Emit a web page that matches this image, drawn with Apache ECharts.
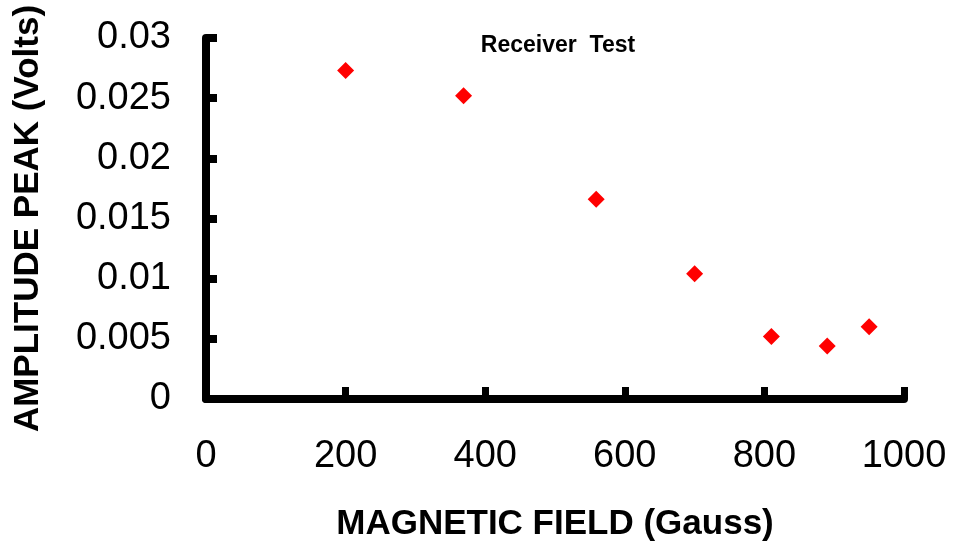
<!DOCTYPE html>
<html>
<head>
<meta charset="utf-8">
<script src="https://cdn.jsdelivr.net/npm/echarts@6/dist/echarts.min.js"></script>
<style>
html,body{margin:0;padding:0;background:#fff;}
#chart{width:954px;height:552px;}
</style>
</head>
<body>
<div id="chart"></div>
<script>
const chartTitle = "Receiver  Test";
const xAxisName = "MAGNETIC FIELD (Gauss)";
const yAxisName = "AMPLITUDE PEAK (Volts)";
const magneticField = [200, 369, 559, 700, 810, 890, 950];
const amplitudePeak = [0.0273, 0.0252, 0.0166, 0.0104, 0.0052, 0.0044, 0.0060];
const xTicks = [0, 200, 400, 600, 800, 1000];
const yTicks = [0, 0.005, 0.01, 0.015, 0.02, 0.025, 0.03];

const points = magneticField.map((x, i) => [x, amplitudePeak[i]]);
const FONT = '"Liberation Sans", Arial, sans-serif';

const chart = echarts.init(document.getElementById('chart'), null, {renderer: 'canvas'});
chart.setOption({
  animation: false,
  backgroundColor: '#ffffff',
  title: {
    text: chartTitle,
    left: 553, top: 29, textAlign: 'center',
    textStyle: {fontFamily: FONT, fontWeight: 'bold', fontSize: 23, color: '#000'}
  },
  grid: {left: 206, right: 50, top: 38, bottom: 153},
  xAxis: {
    type: 'value',
    min: xTicks[0], max: xTicks[xTicks.length - 1], interval: 200,
    name: xAxisName, nameLocation: 'middle', nameGap: 108,
    nameTextStyle: {fontFamily: FONT, fontWeight: 'bold', fontSize: 35, color: '#000'},
    axisLine: {show: true, lineStyle: {color: '#000', width: 8}},
    axisTick: {show: true, inside: true, length: 12, lineStyle: {color: '#000', width: 7}},
    axisLabel: {fontFamily: FONT, fontSize: 38, color: '#000', margin: 39,
      formatter: v => xTicks.includes(v) ? String(v) : ''},
    splitLine: {show: false}
  },
  yAxis: {
    type: 'value',
    min: yTicks[0], max: yTicks[yTicks.length - 1], interval: 0.005,
    name: yAxisName, nameLocation: 'middle', nameGap: 160, nameRotate: 90,
    nameTextStyle: {fontFamily: FONT, fontWeight: 'bold', fontSize: 35, color: '#000'},
    axisLine: {show: true, lineStyle: {color: '#000', width: 8}},
    axisTick: {show: true, inside: true, length: 11, lineStyle: {color: '#000', width: 8}},
    axisLabel: {fontFamily: FONT, fontSize: 38, color: '#000', margin: 35,
      formatter: v => { const t = yTicks.find(y => Math.abs(y - v) < 1e-9); return t === undefined ? '' : String(t); }},
    splitLine: {show: false}
  },
  series: [{
    type: 'scatter',
    data: points,
    symbol: 'diamond',
    symbolSize: 17,
    itemStyle: {color: '#ff0000', opacity: 1}
  }]
});
</script>
</body>
</html>
